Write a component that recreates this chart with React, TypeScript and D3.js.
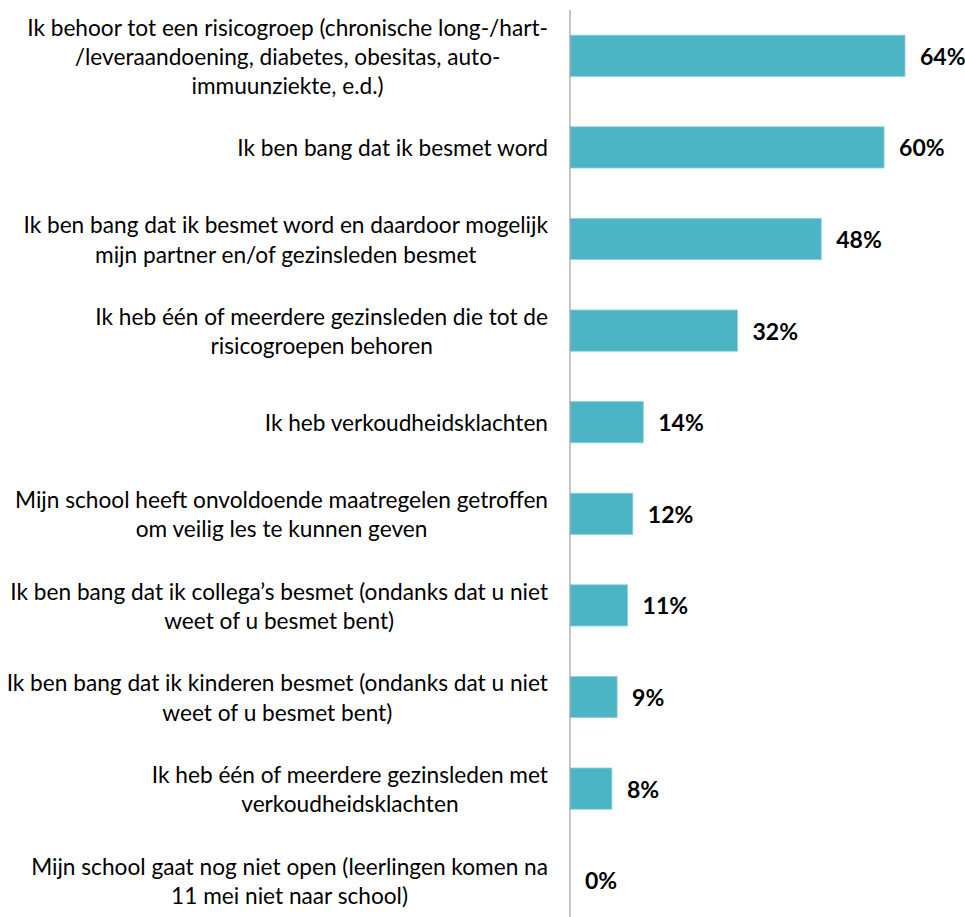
import * as d3 from "d3";
import { useRef, useEffect } from "react";

const categories: string[][] = [
  ["Ik behoor tot een risicogroep (chronische long-/hart-", "/leveraandoening, diabetes, obesitas, auto-", "immuunziekte, e.d.)"],
  ["Ik ben bang dat ik besmet word"],
  ["Ik ben bang dat ik besmet word en daardoor mogelijk", "mijn partner en/of gezinsleden besmet"],
  ["Ik heb één of meerdere gezinsleden die tot de", "risicogroepen behoren"],
  ["Ik heb verkoudheidsklachten"],
  ["Mijn school heeft onvoldoende maatregelen getroffen", "om veilig les te kunnen geven"],
  ["Ik ben bang dat ik collega’s besmet (ondanks dat u niet", "weet of u besmet bent)"],
  ["Ik ben bang dat ik kinderen besmet (ondanks dat u niet", "weet of u besmet bent)"],
  ["Ik heb één of meerdere gezinsleden met", "verkoudheidsklachten"],
  ["Mijn school gaat nog niet open (leerlingen komen na", "11 mei niet naar school)"],
];

const values = [64, 60, 48, 32, 14, 12, 11, 9, 8, 0];

export default function App() {
  const svgRef = useRef(null);

  useEffect(() => {
    const width = 965;
    const height = 917;
    const axisX = 570;
    const font = "Lato, 'Open Sans', sans-serif";

    const svg = d3.select(svgRef.current).attr("width", width).attr("height", height);
    svg.selectAll("*").remove();

    const keys = categories.map((_, i) => String(i));
    const y = d3.scaleBand().domain(keys).range([10, 926]).paddingInner(0.55).paddingOuter(0.275);
    const x = d3.scaleLinear().domain([0, 64]).range([axisX, 905]);

    // fit label font so the widest line matches the original width
    const probe = svg
      .append("text")
      .attr("font-family", font)
      .attr("font-size", 24)
      .text(categories[6][0]);
    const measured = (probe.node() as SVGTextElement).getComputedTextLength();
    probe.remove();
    const fs = Math.min(24, (24 * 538) / measured);
    const lh = 29.3;

    svg
      .append("g")
      .selectAll("rect")
      .data(values)
      .join("rect")
      .attr("x", axisX)
      .attr("y", (_, i) => y(keys[i])!)
      .attr("width", (d) => x(d) - axisX)
      .attr("height", y.bandwidth())
      .attr("fill", "#4bb5c6")
      .attr("stroke", (d) => (d > 0 ? "#8fd0da" : "none"))
      .attr("stroke-width", 0.8);

    svg
      .append("line")
      .attr("x1", axisX)
      .attr("x2", axisX)
      .attr("y1", 10)
      .attr("y2", height)
      .attr("stroke", "#a6a6a6")
      .attr("stroke-width", 1.3);

    const labels = svg.append("g").attr("font-family", font).attr("font-size", fs).attr("fill", "#000");
    categories.forEach((lines, i) => {
      const cy = y(keys[i])! + y.bandwidth() / 2;
      const t = labels.append("text").attr("text-anchor", "middle").attr("dominant-baseline", "central");
      lines.forEach((ln, j) => {
        t.append("tspan")
          .attr("y", cy + (j - (lines.length - 1) / 2) * lh)
          .text(ln);
      });
      let maxW = 0;
      t.selectAll<SVGTSpanElement, unknown>("tspan").each(function () {
        maxW = Math.max(maxW, this.getComputedTextLength());
      });
      t.selectAll("tspan").attr("x", 548 - maxW / 2);
    });

    svg
      .append("g")
      .selectAll("text")
      .data(values)
      .join("text")
      .attr("x", (d) => x(d) + 15)
      .attr("y", (_, i) => y(keys[i])! + y.bandwidth() / 2)
      .attr("dominant-baseline", "central")
      .attr("font-family", font)
      .attr("font-size", 23)
      .attr("font-weight", "bold")
      .attr("fill", "#000")
      .text((d) => `${d}%`);
  }, []);

  return <svg ref={svgRef} style={{ position: "absolute", left: 0, top: 0 }} />;
}
